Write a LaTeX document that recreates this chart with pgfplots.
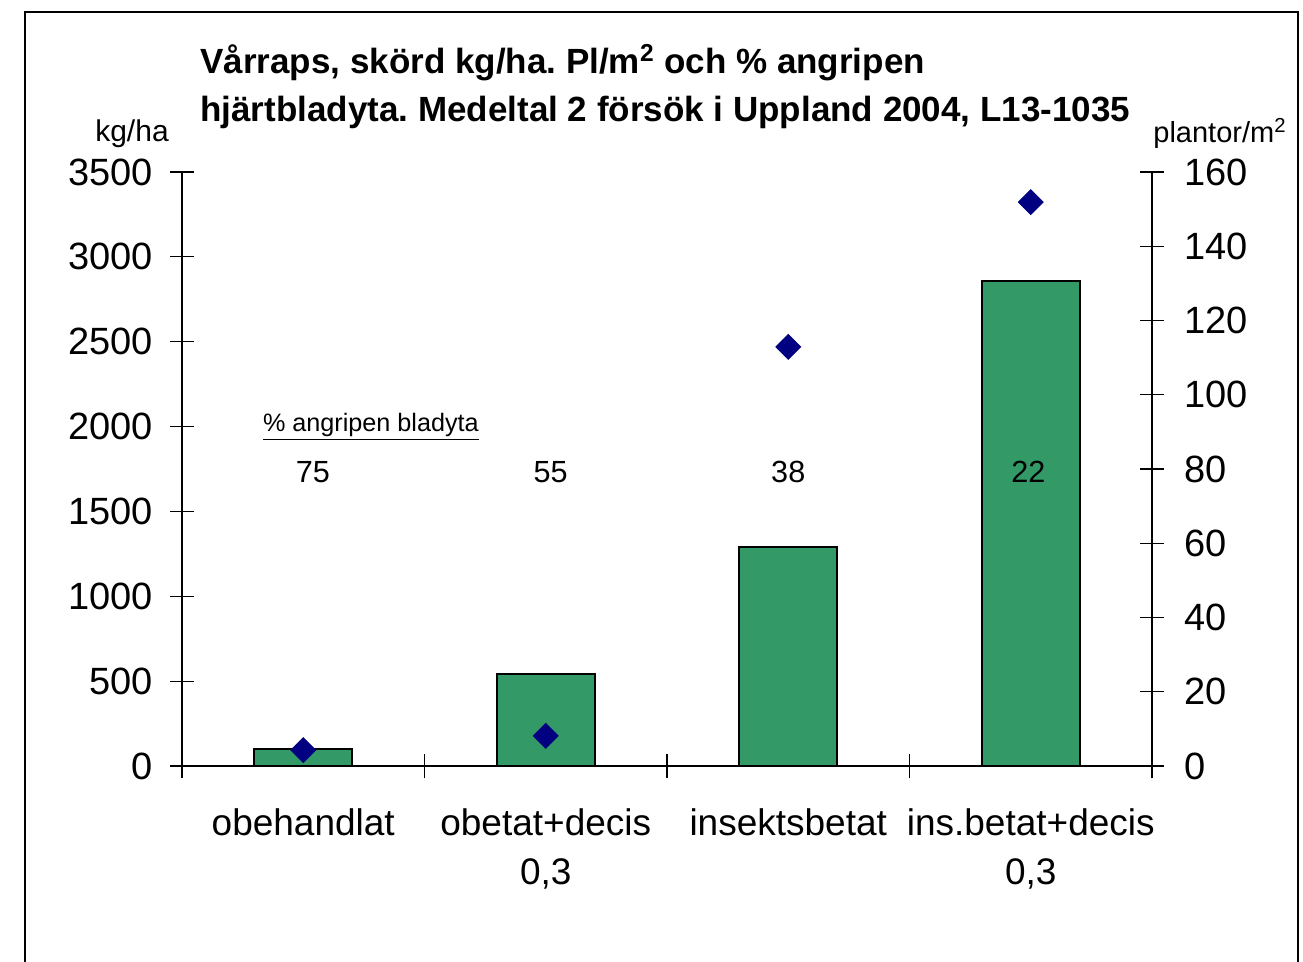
\documentclass[border=0pt]{standalone}
\usepackage{pgfplots}
\pgfplotsset{compat=1.18}
\usepackage{fontspec}
\setmainfont{Liberation Sans}
\definecolor{bargreen}{RGB}{51,153,102}
\definecolor{navyblue}{RGB}{0,0,128}
\frenchspacing
\begin{document}
\begin{tikzpicture}
\useasboundingbox (0,0) rectangle (651.5bp,481bp);
\draw[line width=1bp] (12.5bp,-2bp) -- (12.5bp,475bp) -- (649bp,475bp) -- (649bp,-2bp);
% title
\node[anchor=base west, font=\fontsize{17.5bp}{21bp}\selectfont\bfseries, inner sep=0pt] at (100bp,444bp) {Vårraps, skörd kg/ha. Pl/m\textsuperscript{2} och \% angripen};
\node[anchor=base west, font=\fontsize{17.5bp}{21bp}\selectfont\bfseries, inner sep=0pt] at (100bp,420bp) {hjärtbladyta. Medeltal 2 försök i Uppland 2004, L13-1035};
\node[anchor=base, font=\fontsize{15bp}{18bp}\selectfont, inner sep=0pt] at (66bp,410bp) {kg/ha};
\node[anchor=base west, font=\fontsize{14.5bp}{18bp}\selectfont, inner sep=0pt] at (576.5bp,409.5bp) {plantor/m\textsuperscript{2}};
\begin{axis}[
  at={(91bp,98bp)}, anchor=south west,
  scale only axis, width=485bp, height=297bp,
  xmin=-0.5, xmax=3.5, ymin=0, ymax=3500,
  ytick={0,500,...,3500},
  axis x line*=bottom, axis y line*=left,
  axis line style={line width=0.6bp, -},
  tick align=center,
  major tick length=12bp,
  minor tick length=12.5bp,
  xtick={0,1,2,3},
  xticklabels={obehandlat, {obetat+decis\\0,3}, insektsbetat, {ins.betat+decis\\0,3}},
  minor xtick={-0.5,0.5,1.5,2.5,3.5},
  tick style={line width=0.6bp, black},
  major x tick style={draw=none},
  xticklabel style={align=center, font=\fontsize{18.5bp}{24.5bp}\selectfont, yshift=-12bp},
  yticklabel style={font=\fontsize{19bp}{22bp}\selectfont, xshift=-5bp},
  /pgf/number format/1000 sep={},
  /pgf/number format/assume math mode=true,
  clip=false,
]
\addplot[ybar, bar width=49bp, fill=bargreen, draw=black, line width=1bp] coordinates {(0,100) (1,540) (2,1290) (3,2860)};
\node[font=\fontsize{12.6bp}{15bp}\selectfont] at (axis cs:0.279,2000) {\underline{\% angripen bladyta}};
\node[font=\fontsize{15.3bp}{18bp}\selectfont] at (axis cs:0.04,1732) {75};
\node[font=\fontsize{15.3bp}{18bp}\selectfont] at (axis cs:1.02,1732) {55};
\node[font=\fontsize{15.3bp}{18bp}\selectfont] at (axis cs:2.0,1732) {38};
\node[font=\fontsize{15.3bp}{18bp}\selectfont] at (axis cs:2.99,1732) {22};
\end{axis}
\begin{axis}[
  at={(91bp,98bp)}, anchor=south west,
  scale only axis, width=485bp, height=297bp,
  xmin=-0.5, xmax=3.5, ymin=0, ymax=160,
  ytick={0,20,...,160},
  axis x line=none, axis y line*=right,
  axis line style={line width=0.6bp, -},
  tick align=center,
  major tick length=12bp,
  tick style={line width=0.6bp, black},
  yticklabel style={font=\fontsize{19bp}{22bp}\selectfont, xshift=6.5bp},
  /pgf/number format/assume math mode=true,
  clip=false,
]
\addplot[only marks, mark=square*, mark size=4.4bp, mark options={rotate=45, fill=navyblue, draw=navyblue}] coordinates {(0,4.3) (1,8.1) (2,112.9) (3,151.9)};
\end{axis}
\end{tikzpicture}
\end{document}
